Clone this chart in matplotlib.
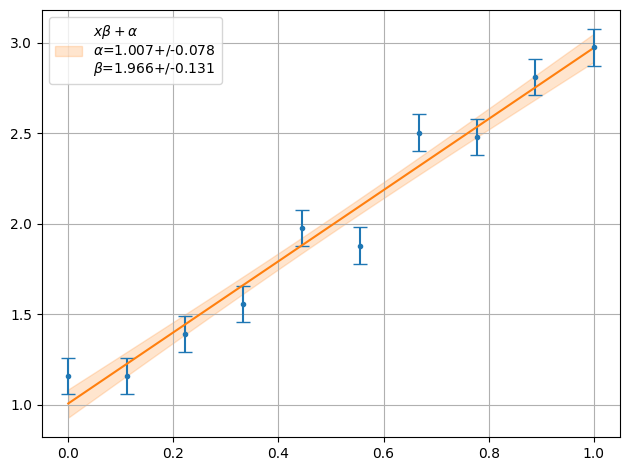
import numpy as np
from matplotlib import pyplot as plt

# measured points
x = np.linspace(0, 1, 10)
y = [1.16, 1.16, 1.39, 1.558, 1.975, 1.88, 2.505, 2.48, 2.81, 2.975]
yerr = [0.1] * 10

# fit results
alpha, alpha_err = 1.007, 0.078
beta, beta_err = 1.966, 0.131

xs = np.linspace(0, 1, 100)
fit = alpha + beta * xs
# covariance of intercept and slope for evenly spaced x
cov = -np.mean(x) * beta_err**2
band = np.sqrt(alpha_err**2 + xs**2 * beta_err**2 + 2 * xs * cov)

fig, ax = plt.subplots(figsize=(6.3, 4.7), dpi=100)
ax.errorbar(x, y, yerr=yerr, fmt=".", capsize=5)
ax.plot(xs, fit, color="C1")
label = r"$x\beta + \alpha$" + "\n" + \
    r"$\alpha$=%.3f+/-%.3f" % (alpha, alpha_err) + "\n" + \
    r"$\beta$=%.3f+/-%.3f" % (beta, beta_err)
ax.fill_between(xs, fit - band, fit + band, color="C1", alpha=0.2, label=label)
ax.legend(loc="upper left")
ax.grid()
fig.subplots_adjust(left=42 / 630, right=620 / 630, top=1 - 10 / 470, bottom=1 - 437 / 470)
fig.savefig("out.png")
